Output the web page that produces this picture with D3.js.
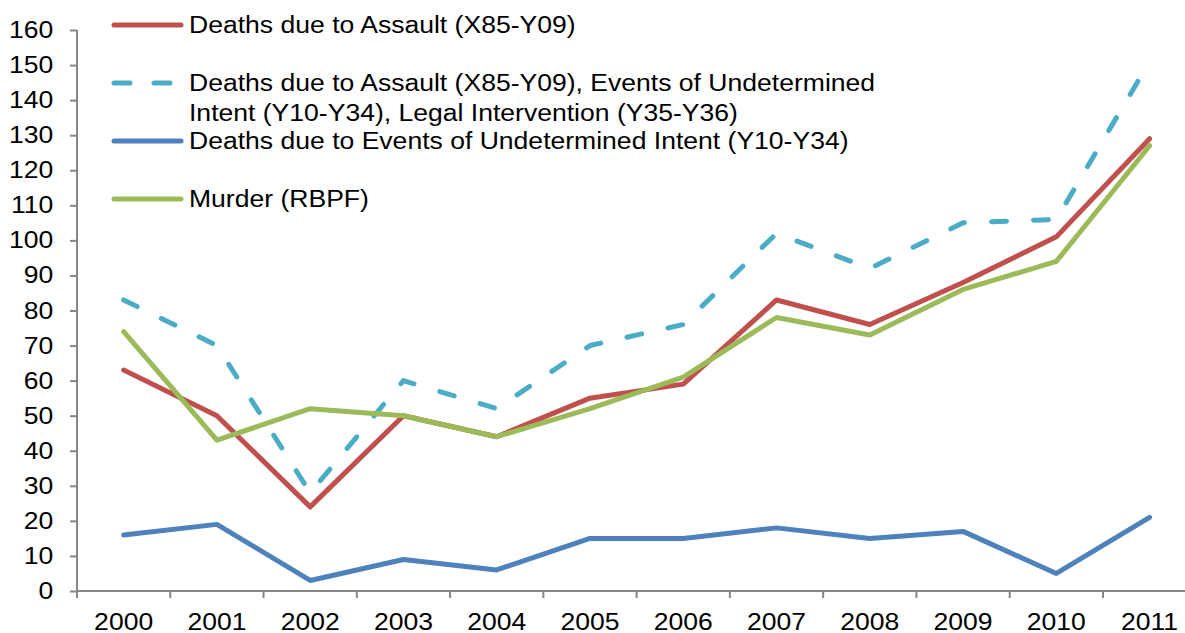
<!DOCTYPE html>
<html>
<head>
<meta charset="utf-8">
<script src="https://cdn.jsdelivr.net/npm/d3@7"></script>
<style>
  body { margin: 0; background: #fff; }
  svg text { font-family: "Liberation Sans", Arial, sans-serif; fill: #000; }
</style>
</head>
<body>
<div id="chart"></div>
<script>
// values
var years = ["2000","2001","2002","2003","2004","2005","2006","2007","2008","2009","2010","2011"];
var assault = [63, 50, 24, 50, 44, 55, 59, 83, 76, 88, 101, 129];
var combined = [83, 70, 28, 60, 52, 70, 76, 102, 92, 105, 106, 151];
var undetermined = [16, 19, 3, 9, 6, 15, 15, 18, 15, 17, 5, 21];
var murder = [74, 43, 52, 50, 44, 52, 61, 78, 73, 86, 94, 127];
var yTicks = [0, 10, 20, 30, 40, 50, 60, 70, 80, 90, 100, 110, 120, 130, 140, 150, 160];

var series = [
  {name: ["Deaths due to Assault (X85-Y09)"], values: assault, color: "#C0504D", dash: null, ly: 25},
  {name: ["Deaths due to Assault (X85-Y09), Events of Undetermined", "Intent (Y10-Y34), Legal Intervention (Y35-Y36)"], values: combined, color: "#4BACC6", dash: "15,27", ly: 83},
  {name: ["Deaths due to Events of Undetermined Intent (Y10-Y34)"], values: undetermined, color: "#4F81BD", dash: null, ly: 141},
  {name: ["Murder (RBPF)"], values: murder, color: "#9BBB59", dash: null, ly: 199}
];

var width = 1185, height = 633;
var fontSize = "23.5px";
var stretch = "scale(1.13,1)"; // the original text is a bit wider than Arial

var svg = d3.select("#chart").append("svg")
  .attr("width", width)
  .attr("height", height);

var x = d3.scaleBand()
  .domain(years)
  .range([77, 77 + 12 * 93.27]);

var y = d3.scaleLinear()
  .domain([0, 160])
  .range([591, 30]);

// y axis
var yAxis = svg.append("g")
  .attr("transform", "translate(77,0)")
  .call(d3.axisLeft(y).tickValues(yTicks).tickSize(7).tickPadding(14));
yAxis.selectAll("text")
  .style("font-size", fontSize)
  .attr("transform", stretch);

// x axis
var xAxis = svg.append("g")
  .attr("transform", "translate(0,591)")
  .call(d3.axisBottom(x).tickSize(0).tickPadding(22));
xAxis.selectAll("text")
  .style("font-size", fontSize)
  .attr("transform", stretch);
xAxis.selectAll(".xtick")
  .data(years.concat(["end"]))
  .enter().append("line")
  .attr("x1", function (d, i) { return 77 + i * x.step(); })
  .attr("x2", function (d, i) { return 77 + i * x.step(); })
  .attr("y1", 0)
  .attr("y2", 7);

svg.selectAll(".domain, .tick line, g line")
  .attr("stroke", "#868686")
  .attr("stroke-width", 2);
yAxis.select(".domain").attr("d", "M0,30V591");
xAxis.select(".domain").attr("d", "M77,0H" + (77 + 12 * x.step()));

var line = d3.line()
  .x(function (d, i) { return x(years[i]) + x.bandwidth() / 2; })
  .y(function (d) { return y(d); });

// draw order: dashed, red, green, blue
[1, 0, 3, 2].forEach(function (k) {
  var s = series[k];
  svg.append("path")
    .datum(s.values)
    .attr("d", line)
    .attr("fill", "none")
    .attr("stroke", s.color)
    .attr("stroke-width", 5)
    .attr("stroke-linejoin", "round")
    .attr("stroke-linecap", "round")
    .attr("stroke-dasharray", s.dash);
});

// legend
var legend = svg.append("g");
series.forEach(function (s) {
  legend.append("line")
    .attr("x1", 114).attr("x2", 181)
    .attr("y1", s.ly).attr("y2", s.ly)
    .attr("stroke", s.color)
    .attr("stroke-width", 5)
    .attr("stroke-linecap", "round")
    .attr("stroke-dasharray", s.dash ? "16,24" : null);
  var t = legend.append("text")
    .attr("transform", "translate(189," + (s.ly + 8) + ") " + stretch)
    .style("font-size", fontSize);
  s.name.forEach(function (n, i) {
    t.append("tspan").attr("x", 0).attr("dy", i === 0 ? 0 : 30).text(n);
  });
});
</script>
</body>
</html>
